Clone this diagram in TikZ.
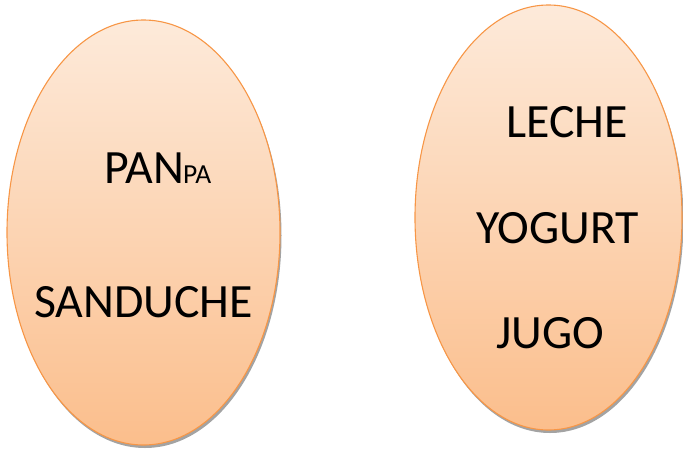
\documentclass[tikz,border=0pt]{standalone}
\usepackage{fontspec}
\setmainfont{Carlito}
\usetikzlibrary{shapes.geometric,shadows}
\definecolor{ovtop}{HTML}{FDEADA}
\definecolor{ovbot}{HTML}{FBBE8C}
\definecolor{ovline}{HTML}{F79646}
\tikzset{
  oval/.style={ellipse, draw=ovline, line width=1.1pt, top color=ovtop, bottom color=ovbot,
    inner sep=0pt, drop shadow={shadow xshift=1.5pt, shadow yshift=-3pt, fill=black!45, opacity=0.8}},
  word/.style={anchor=base west, inner sep=0pt, font=\fontsize{47.8}{48}\selectfont},
  small/.style={anchor=base west, inner sep=0pt, font=\fontsize{27.5}{28}\selectfont}
}
\begin{document}
\begin{tikzpicture}[x=1pt,y=-1pt]
\useasboundingbox (0,0) rectangle (683,450);
\node[oval, minimum width=273pt, minimum height=425pt] (left) at (143.5,232.5) {};
\node[oval, minimum width=267pt, minimum height=425pt] (right) at (548.5,217.5) {};
\node[word] (pan) at (104,183) {PAN};
\node[small] (pa) at (183,183) {PA};
\node[word] (sand) at (34,317) {SANDUCHE};
\node[word] (leche) at (506,137) {LECHE};
\node[word] (yog) at (476,243) {YOGURT};
\node[word] (jugo) at (496,348) {JUGO};
\end{tikzpicture}
\end{document}
